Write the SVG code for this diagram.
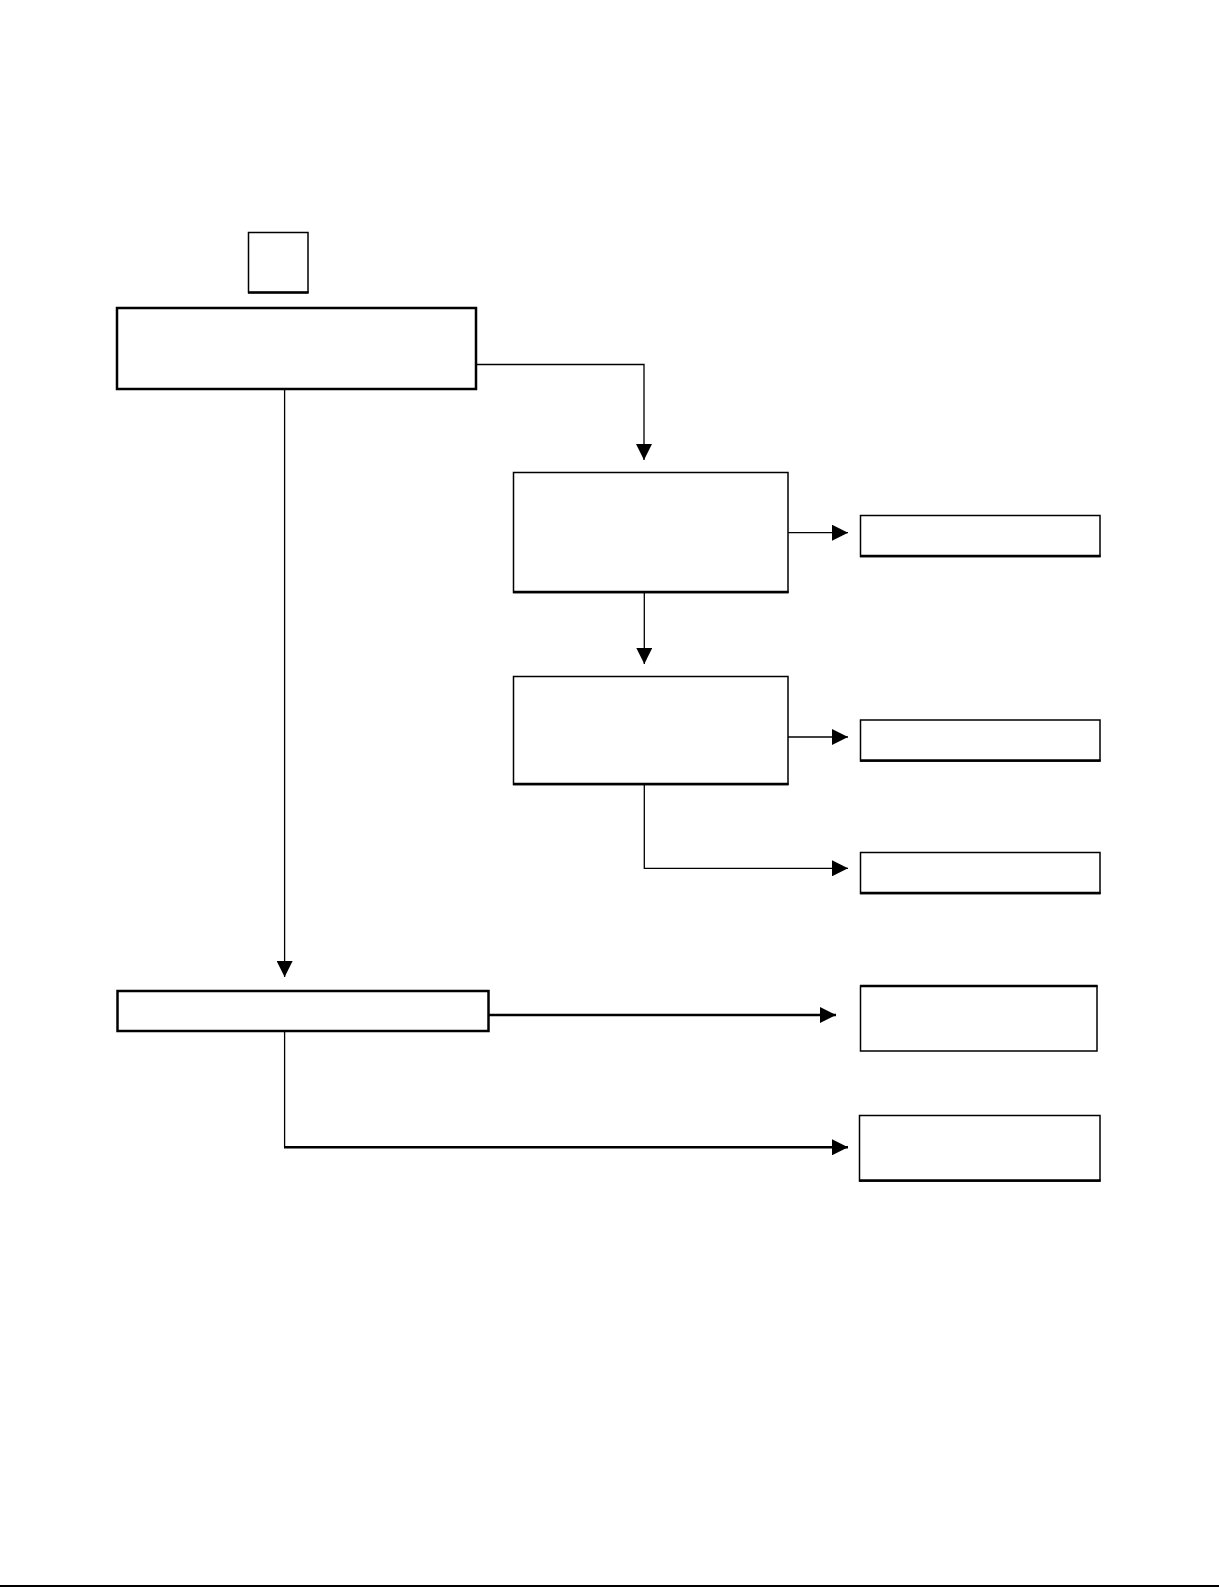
<svg xmlns="http://www.w3.org/2000/svg" width="1219" height="1587" viewBox="0 0 1219 1587">
<style>
.box{fill:#fff;stroke:#000;stroke-width:1.5}
.bold{fill:#fff;stroke:#000;stroke-width:2.5}
.edge{fill:none;stroke:#000;stroke-width:2.5}
.c{fill:none;stroke:#000;stroke-width:1.3}
.ct{fill:none;stroke:#000;stroke-width:2.5}
</style>
<defs>
<marker id="ah" markerUnits="userSpaceOnUse" markerWidth="16" markerHeight="16" viewBox="0 0 15 15" refX="15" refY="7.5" orient="auto">
<path d="M0,0 L15,7.5 L0,15 z" fill="#000"/>
</marker>
</defs>
<rect width="1219" height="1587" fill="#fff"/>
<g id="connectors">
<path class="c" d="M476,364.5 H644 V460" marker-end="url(#ah)"/>
<path class="c" d="M284.6,389 V977" marker-end="url(#ah)"/>
<path class="c" d="M788,532.7 H848" marker-end="url(#ah)"/>
<path class="c" d="M644.3,592.5 V664" marker-end="url(#ah)"/>
<path class="c" d="M788,737 H848" marker-end="url(#ah)"/>
<path class="c" d="M644.3,784.7 V868.3 H848" marker-end="url(#ah)"/>
<path class="ct" d="M488.5,1015 H836" marker-end="url(#ah)"/>
<path class="c" d="M284.6,1026 V1147"/>
<path class="ct" d="M284,1147.3 H848" marker-end="url(#ah)"/>
</g>
<g id="n0"><rect class="box" x="248.5" y="232.5" width="59.5" height="60"/><line class="edge" x1="248" y1="292.5" x2="308.5" y2="292.5"/></g>
<g id="n1"><rect class="bold" x="117" y="308" width="359" height="81"/></g>
<g id="n2"><rect class="box" x="513.5" y="472.5" width="274.5" height="120"/><line class="edge" x1="513" y1="592" x2="788.5" y2="592"/></g>
<g id="n3"><rect class="box" x="860.5" y="515.5" width="239.5" height="41"/><line class="edge" x1="860" y1="556" x2="1100.5" y2="556"/></g>
<g id="n4"><rect class="box" x="513.5" y="676.5" width="274.5" height="108"/><line class="edge" x1="513" y1="784" x2="788.5" y2="784"/></g>
<g id="n5"><rect class="box" x="860.5" y="720" width="239.5" height="41"/><line class="edge" x1="860" y1="760.5" x2="1100.5" y2="760.5"/></g>
<g id="n6"><rect class="box" x="860.5" y="852.5" width="239.5" height="41"/><line class="edge" x1="860" y1="893" x2="1100.5" y2="893"/></g>
<g id="n7"><rect class="bold" x="117.5" y="991" width="371" height="40"/></g>
<g id="n8"><rect class="box" x="860.5" y="986" width="236.5" height="65"/><line class="edge" x1="860" y1="986" x2="1097.5" y2="986"/></g>
<g id="n9"><rect class="box" x="859.5" y="1115.5" width="240.5" height="65.5"/><line class="edge" x1="859" y1="1180.5" x2="1100.5" y2="1180.5"/></g>
<line x1="0" y1="1586" x2="1219" y2="1586" stroke="#000" stroke-width="2"/>
</svg>
